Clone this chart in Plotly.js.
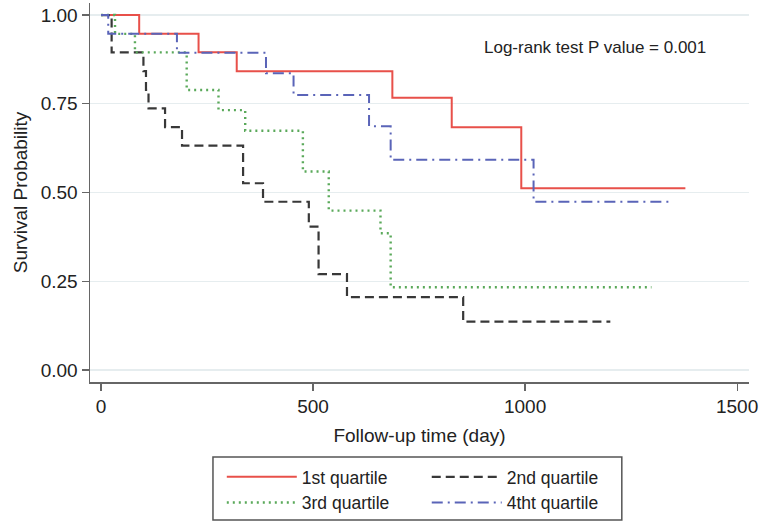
<!DOCTYPE html>
<html>
<head>
<meta charset="utf-8">
<script src="https://cdn.plot.ly/plotly-3.0.1.min.js"></script>
<style>html,body{margin:0;padding:0;background:#fff;}#chart{width:760px;height:524px;}</style>
</head>
<body>
<div id="chart"></div>
<script>
// Kaplan-Meier step data
var q1Days = [0, 90, 230, 320, 687, 827, 991, 1378];
var q1Surv = [1, 0.947, 0.895, 0.842, 0.767, 0.684, 0.512, 0.512];

var q2Days = [0, 25, 100, 106, 112, 151, 191, 335, 382, 490, 513, 580, 854, 1201];
var q2Surv = [1, 0.895, 0.842, 0.789, 0.737, 0.684, 0.632, 0.526, 0.474, 0.404, 0.270, 0.205, 0.136, 0.136];

var q3Days = [0, 33, 80, 202, 277, 340, 476, 537, 659, 683, 1298];
var q3Surv = [1, 0.947, 0.895, 0.789, 0.732, 0.674, 0.559, 0.449, 0.385, 0.233, 0.233];

var q4Days = [0, 17, 179, 389, 454, 632, 683, 1020, 1346];
var q4Surv = [1, 0.947, 0.894, 0.836, 0.775, 0.687, 0.592, 0.474, 0.474];

var seriesNames = ['1st quartile', '2nd quartile', '3rd quartile', '4tht quartile'];
var xTicks = [0, 500, 1000, 1500];
var yTicks = [0, 0.25, 0.5, 0.75, 1];
var annotationText = 'Log-rank test P value = 0.001';

var FONT = 'Liberation Sans, Arial, sans-serif';

var traces = [
  {x: q1Days, y: q1Surv, name: seriesNames[0], legend: 'legend',
   line: {color: '#e8504a', width: 2, shape: 'hv'}},
  {x: q2Days, y: q2Surv, name: seriesNames[1], legend: 'legend2',
   line: {color: '#383838', width: 2.2, shape: 'hv', dash: '9px,5px'}},
  {x: q3Days, y: q3Surv, name: seriesNames[2], legend: 'legend',
   line: {color: '#5aa95a', width: 2.4, shape: 'hv', dash: '2px,4px'}},
  {x: q4Days, y: q4Surv, name: seriesNames[3], legend: 'legend2',
   line: {color: '#5a64b8', width: 2, shape: 'hv', dash: '11px,5px,2px,5px'}}
];
traces.forEach(function(t){ t.type = 'scatter'; t.mode = 'lines'; t.hoverinfo = 'skip'; });

var legendCommon = {
  orientation: 'v', xanchor: 'left', yanchor: 'top', xref: 'paper', yref: 'paper',
  bgcolor: 'rgba(0,0,0,0)', borderwidth: 0, itemwidth: 70,
  font: {family: FONT, size: 17.5, color: '#222'}, tracegroupgap: 0
};

var layout = {
  width: 760, height: 524,
  margin: {l: 90, r: 11, t: 3, b: 142},
  paper_bgcolor: '#ffffff', plot_bgcolor: '#ffffff',
  font: {family: FONT, size: 19, color: '#222'},
  showlegend: true,
  legend: Object.assign({x: 0.2, y: -0.203}, legendCommon),
  legend2: Object.assign({x: 0.511, y: -0.203}, legendCommon),
  xaxis: {
    range: [-26, 1528], tickvals: xTicks, ticktext: xTicks.map(String),
    showgrid: false, zeroline: false, showline: true, linecolor: '#666', linewidth: 1.5,
    ticks: 'outside', ticklen: 7, tickcolor: '#666', tickwidth: 1.2,
    tickfont: {family: FONT, size: 19, color: '#222'},
    title: {text: 'Follow-up time (day)', font: {family: FONT, size: 19, color: '#222'}, standoff: 12}
  },
  yaxis: {
    range: [-0.034, 1.034], tickvals: yTicks, ticktext: yTicks.map(function(v){return v.toFixed(2);}),
    showgrid: true, gridcolor: '#e6edef', gridwidth: 1.2, zeroline: false,
    showline: true, linecolor: '#666', linewidth: 1.5,
    ticks: 'outside', ticklen: 7, tickcolor: '#666', tickwidth: 1.2,
    tickfont: {family: FONT, size: 19, color: '#222'},
    title: {text: 'Survival Probability', font: {family: FONT, size: 19, color: '#222'}, standoff: 8}
  },
  annotations: [{
    x: 1165, y: 0.91, xref: 'x', yref: 'y', text: annotationText, showarrow: false,
    font: {family: FONT, size: 17, color: '#222'}, xanchor: 'center', yanchor: 'middle'
  }],
  shapes: [{
    type: 'rect', xref: 'paper', yref: 'paper',
    x0: 0.1866, x1: 0.807, y0: -0.364, y1: -0.198,
    line: {color: '#555', width: 1.5}, fillcolor: 'rgba(0,0,0,0)'
  }]
};

Plotly.newPlot('chart', traces, layout, {displayModeBar: false, staticPlot: true});
</script>
</body>
</html>
